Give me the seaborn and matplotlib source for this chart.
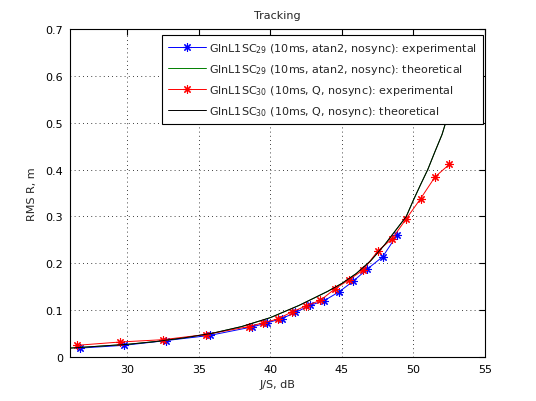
import matplotlib
matplotlib.use("Agg")
import matplotlib.pyplot as plt
import seaborn as sns
import numpy as np

# ---- data ----
blue_x = [26.7, 29.8, 32.7, 35.75, 38.7, 39.8, 40.8, 41.75, 42.75, 43.75, 44.8, 45.8, 46.75, 47.85, 48.85]
blue_y = [0.019, 0.025, 0.035, 0.046, 0.064, 0.073, 0.082, 0.095, 0.110, 0.120, 0.139, 0.162, 0.187, 0.214, 0.260]

red_x = [26.5, 29.5, 32.5, 35.5, 38.5, 39.5, 40.5, 41.5, 42.5, 43.5, 44.5, 45.5, 46.5, 47.5, 48.5,
         49.5, 50.5, 51.5, 52.5]
red_y = [0.025, 0.032, 0.037, 0.048, 0.065, 0.073, 0.081, 0.096, 0.109, 0.121, 0.145, 0.165, 0.186,
         0.226, 0.252, 0.295, 0.338, 0.384, 0.411]

theo29_x = [26, 28, 30, 32, 34, 36, 38, 40, 42, 44, 45, 46, 47, 48, 49, 49.5, 50, 50.5, 51, 51.5, 52, 52.5, 53]
theo29_y = [0.019, 0.023, 0.027, 0.033, 0.041, 0.051, 0.065, 0.084, 0.110, 0.140, 0.157, 0.178, 0.205,
            0.240, 0.280, 0.300, 0.335, 0.368, 0.400, 0.438, 0.475, 0.525, 0.600]

theo30_x = [26, 28, 30, 32, 34, 36, 38, 40, 42, 44, 45, 46, 47, 48, 49, 49.5, 50, 50.5, 51, 51.5, 52, 52.5, 53]
theo30_y = [0.019, 0.023, 0.027, 0.033, 0.041, 0.051, 0.065, 0.084, 0.110, 0.140, 0.157, 0.178, 0.205,
            0.240, 0.280, 0.300, 0.335, 0.368, 0.400, 0.438, 0.475, 0.525, 0.600]

labels = [
    r"GlnL1SC$_{29}$ (10ms, atan2, nosync): experimental",
    r"GlnL1SC$_{29}$ (10ms, atan2, nosync): theoretical",
    r"GlnL1SC$_{30}$ (10ms, Q, nosync): experimental",
    r"GlnL1SC$_{30}$ (10ms, Q, nosync): theoretical",
]
x_ticks = [30, 35, 40, 45, 50, 55]
y_ticks = [0, 0.1, 0.2, 0.3, 0.4, 0.5, 0.6, 0.7]
y_ticklabels = ["0", "0.1", "0.2", "0.3", "0.4", "0.5", "0.6", "0.7"]

sns.set_style("white")
plt.rcParams["font.family"] = ["DejaVu Sans"]
plt.rcParams["font.size"] = 8

fig = plt.figure(figsize=(5.36, 4.02), dpi=100)
ax = fig.add_axes([70 / 536, 1 - 358 / 402, 415 / 536, 328 / 402])

ast = (8, 2, 0)
sns.lineplot(x=blue_x, y=blue_y, ax=ax, color="#0000ff", lw=0.7, marker=ast, markersize=6,
             markeredgewidth=0.8, markeredgecolor="#0000ff", label=labels[0], sort=False)
sns.lineplot(x=theo29_x, y=theo29_y, ax=ax, color="#007f00", lw=0.7, label=labels[1], sort=False)
sns.lineplot(x=red_x, y=red_y, ax=ax, color="#ff0000", lw=0.7, marker=ast, markersize=6,
             markeredgewidth=0.8, markeredgecolor="#ff0000", label=labels[2], sort=False)
sns.lineplot(x=theo30_x, y=theo30_y, ax=ax, color="#000000", lw=0.7, label=labels[3], sort=False)

ax.set_xlim(26, 55)
ax.set_ylim(0, 0.7)
ax.set_xticks(x_ticks)
ax.set_yticks(y_ticks)
ax.set_yticklabels(y_ticklabels)
ax.grid(True, linestyle=(0, (1, 4)), color="black", linewidth=0.6)
ax.tick_params(direction="in", top=True, right=True, length=4, width=0.8, labelsize=8,
               colors="black", pad=5)
for s in ax.spines.values():
    s.set_color("black")
    s.set_linewidth(0.8)
    s.set_visible(True)

ax.set_title("Tracking", fontsize=8, pad=8)
ax.set_xlabel("J/S, dB", fontsize=8, labelpad=4)
ax.set_ylabel("RMS R, m", fontsize=8, labelpad=6)

leg = ax.legend(loc="upper right", bbox_to_anchor=(0.995, 0.982), borderaxespad=0,
                fontsize=8, handlelength=3.4, handletextpad=0.3, labelspacing=0.62,
                numpoints=1, fancybox=False, framealpha=1, edgecolor="black", borderpad=0.55)
leg.get_frame().set_linewidth(0.8)

fig.savefig("out.png", dpi=100, facecolor="white")
